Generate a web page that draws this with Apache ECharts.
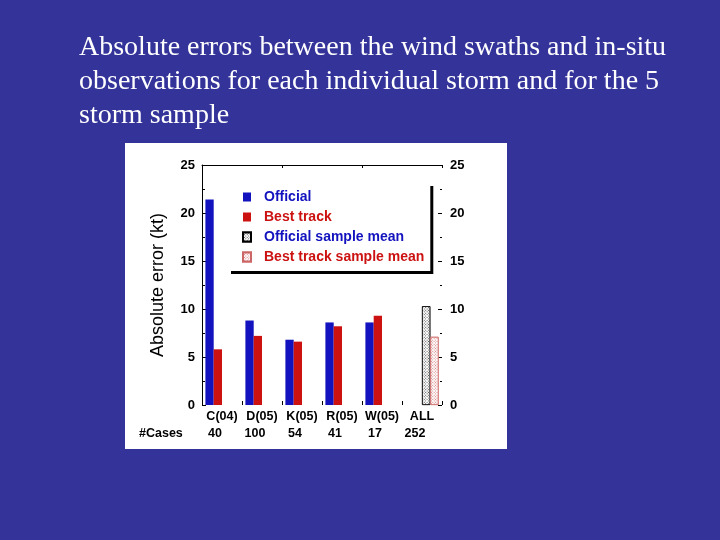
<!DOCTYPE html>
<html>
<head>
<meta charset="utf-8">
<script src="https://cdn.jsdelivr.net/npm/echarts@6/dist/echarts.min.js"></script>
<style>
  html, body { margin: 0; padding: 0; background: #333399; }
  #main { width: 720px; height: 540px; }
</style>
</head>
<body>
<div id="main"></div>
<script>
// values
const storms = ['C(04)', 'D(05)', 'K(05)', 'R(05)', 'W(05)', 'ALL']
const cases = ['40', '100', '54', '41', '17', '252']
const official = [21.4, 8.8, 6.8, 8.6, 8.6, null]
const bestTrack = [5.8, 7.2, 6.6, 8.2, 9.3, null]
const officialMean = [null, null, null, null, null, 10.3]
const bestTrackMean = [null, null, null, null, null, 7.1]
const yTicks = { min: 0, max: 25, interval: 5 }

const FONT = '"Liberation Sans", Arial, sans-serif'
const BLUE = '#1212bf'
const RED = '#cc1111'

const chart = echarts.init(document.getElementById('main'))

// stipple fill for the sample mean bars
const hatch = color => ({
  symbol: 'rect',
  symbolSize: 0.8,
  color: color,
  backgroundColor: '#fff',
  dashArrayX: [1, 1],
  dashArrayY: [1, 1],
  rotation: Math.PI / 4
})

const barBase = { type: 'bar', barWidth: 8.3, barGap: '0%', xAxisIndex: 0, yAxisIndex: 0 }

const option = {
  backgroundColor: '#333399',
  animation: false,
  textStyle: { fontFamily: FONT },
  title: {
    text: 'Absolute errors between the wind swaths and in-situ\nobservations for each individual storm and for the 5\nstorm sample',
    left: 79,
    top: 31,
    padding: 0,
    textStyle: {
      fontFamily: '"Liberation Serif", "Times New Roman", serif',
      fontWeight: 'normal',
      fontSize: 28,
      lineHeight: 34,
      color: '#fff'
    }
  },
  graphic: [
    { type: 'rect', z: -10, shape: { x: 125, y: 143, width: 382, height: 306 }, style: { fill: '#fff' } },
    { type: 'text', left: 139, top: 427, style: { text: '#Cases', font: 'bold 12.5px ' + FONT, fill: '#000' } }
  ],
  legend: {
    orient: 'vertical',
    left: 228,
    top: 183,
    padding: [7, 6, 7, 14],
    icon: 'rect',
    itemWidth: 8,
    itemHeight: 9,
    itemGap: 6,
    backgroundColor: '#fff',
    shadowColor: '#000',
    shadowBlur: 0,
    shadowOffsetX: 3,
    shadowOffsetY: 3,
    textStyle: { fontSize: 14, fontWeight: 'bold', padding: [0, 0, 0, 8] },
    data: [
      { name: 'Official', textStyle: { color: BLUE } },
      { name: 'Best track', textStyle: { color: RED } },
      { name: 'Official sample mean', textStyle: { color: BLUE } },
      { name: 'Best track sample mean', textStyle: { color: RED } }
    ]
  },
  grid: { left: 202, right: 278, top: 165, bottom: 135 },
  xAxis: [
    {
      type: 'category',
      data: storms,
      position: 'bottom',
      axisLine: { show: false },
      axisTick: { show: true, inside: true, length: 4, lineStyle: { color: '#000' } },
      axisLabel: { interval: 0, margin: 5, color: '#000', fontSize: 12.5, fontWeight: 'bold' }
    },
    {
      type: 'category',
      data: cases,
      position: 'bottom',
      offset: 17,
      axisLine: { show: false },
      axisTick: { show: false },
      axisLabel: { interval: 0, margin: 5, color: '#000', fontSize: 12.5, fontWeight: 'bold', padding: [0, 14, 0, 0] }
    },
    {
      type: 'category',
      data: storms,
      position: 'top',
      axisLine: { show: true, lineStyle: { color: '#000', width: 1 } },
      axisTick: { show: true, inside: true, length: 3, lineStyle: { color: '#000' } },
      axisLabel: { show: false }
    }
  ],
  yAxis: [
    {
      type: 'value',
      min: yTicks.min,
      max: yTicks.max,
      interval: yTicks.interval,
      position: 'left',
      name: 'Absolute error (kt)',
      nameLocation: 'middle',
      nameGap: 35,
      nameTextStyle: { fontSize: 18, color: '#000' },
      axisLine: { show: true, lineStyle: { color: '#000', width: 1 } },
      axisTick: { show: true, inside: true, length: 4, lineStyle: { color: '#000' } },
      minorTick: { show: true, splitNumber: 2, length: 3, lineStyle: { color: '#000' } },
      splitLine: { show: false },
      axisLabel: { margin: 7, color: '#000', fontSize: 13, fontWeight: 'bold' }
    },
    {
      type: 'value',
      min: yTicks.min,
      max: yTicks.max,
      interval: yTicks.interval,
      position: 'right',
      axisLine: { show: false },
      axisTick: { show: true, inside: true, length: 4, lineStyle: { color: '#000' } },
      minorTick: { show: true, splitNumber: 2, length: 2, lineStyle: { color: '#000' } },
      splitLine: { show: false },
      axisLabel: { margin: 8, color: '#000', fontSize: 13, fontWeight: 'bold' }
    }
  ],
  series: [
    Object.assign({}, barBase, { name: 'Official', data: official, itemStyle: { color: BLUE } }),
    Object.assign({}, barBase, { name: 'Best track', data: bestTrack, itemStyle: { color: RED } }),
    Object.assign({}, barBase, {
      name: 'Official sample mean',
      data: officialMean,
      itemStyle: { color: '#fff', borderColor: '#000', borderWidth: 0.8, decal: hatch('#333') }
    }),
    Object.assign({}, barBase, {
      name: 'Best track sample mean',
      data: bestTrackMean,
      itemStyle: { color: '#fff', borderColor: '#cc6666', borderWidth: 0.8, decal: hatch('#d06060') }
    })
  ]
}

chart.setOption(option)
</script>
</body>
</html>
